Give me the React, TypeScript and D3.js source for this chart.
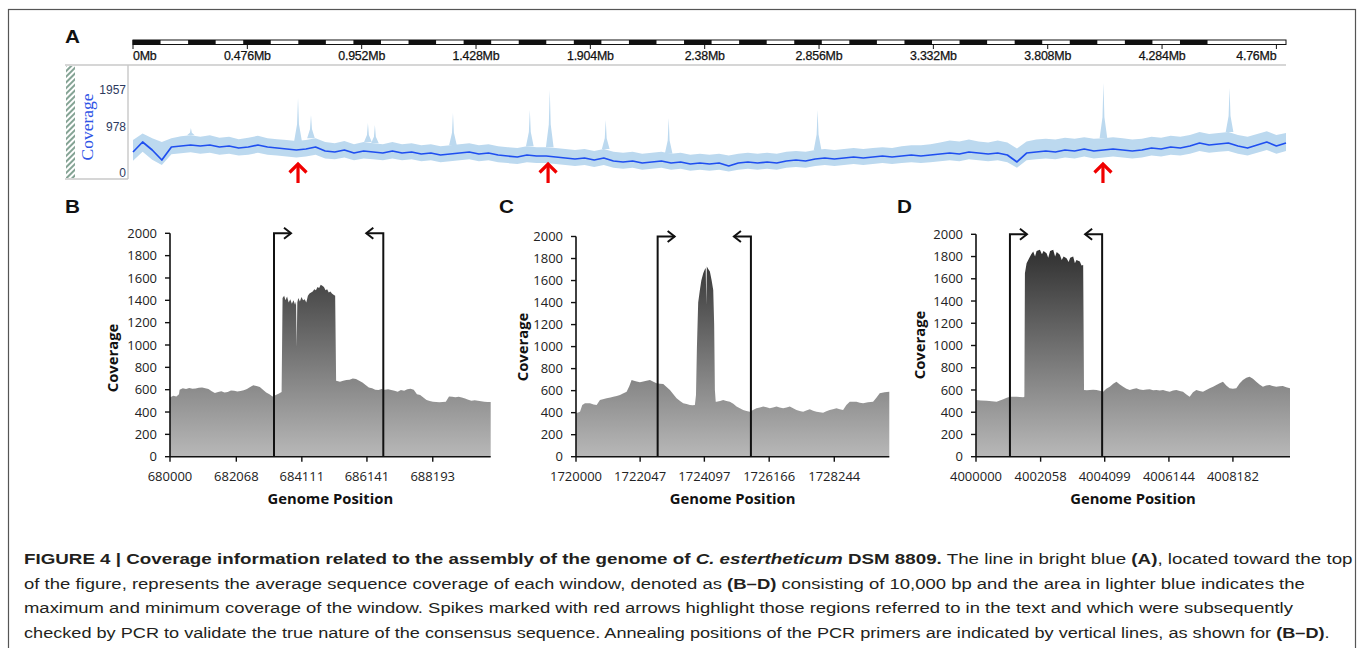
import React from "react";
import * as d3 from "d3";

// ---------------- Panel A data ----------------
const genomeLengthMb = 4.8;
const rulerTickMb = [0, 0.476, 0.952, 1.428, 1.904, 2.38, 2.856, 3.332, 3.808, 4.284, 4.76];
const rulerTickLabels = ["0Mb", "0.476Mb", "0.952Mb", "1.428Mb", "1.904Mb", "2.38Mb", "2.856Mb", "3.332Mb", "3.808Mb", "4.284Mb", "4.76Mb"];
const rulerSegmentMb = 0.1147;
const rulerBlackSegments = 20;
const trackTicks = [0, 978, 1957];
const windowStepMb = 0.04;
const meanCoverage = [
  446, 659, 489, 276, 553, 574, 595, 574, 595, 553,
  574, 531, 553, 595, 553, 531, 510, 489, 510, 553,
  468, 446, 489, 425, 468, 446, 425, 468, 425, 446,
  404, 425, 383, 404, 425, 446, 404, 425, 383, 361,
  340, 383, 361, 361, 340, 319, 298, 319, 276, 319,
  255, 234, 255, 213, 234, 255, 213, 234, 191, 213,
  191, 213, 149, 213, 234, 213, 234, 213, 255, 276,
  255, 298, 319, 298, 319, 340, 319, 340, 361, 340,
  361, 383, 361, 383, 404, 425, 404, 446, 425, 404,
  425, 383, 234, 425, 446, 468, 446, 489, 468, 510,
  468, 489, 510, 489, 468, 489, 531, 510, 553, 531,
  574, 638, 595, 617, 638, 574, 531, 595, 659, 574,
  638,
];
const maxCoverage = [
  700, 840, 740, 660, 740, 780, 800, 770, 800, 750,
  770, 720, 750, 790, 740, 720, 700, 680, 700, 740,
  660, 630, 680, 610, 660, 630, 610, 660, 610, 630,
  590, 610, 570, 590, 610, 630, 590, 610, 570, 550,
  530, 570, 550, 550, 530, 510, 490, 510, 470, 510,
  450, 430, 450, 410, 430, 450, 410, 430, 390, 410,
  390, 410, 370, 410, 430, 410, 430, 410, 450, 470,
  450, 490, 510, 490, 510, 530, 510, 530, 550, 530,
  570, 590, 590, 610, 650, 690, 670, 710, 670, 650,
  690, 650, 520, 670, 710, 730, 710, 750, 730, 760,
  730, 740, 760, 740, 710, 730, 770, 750, 790, 770,
  810, 870, 830, 850, 870, 810, 770, 830, 890, 810,
  850,
];
const minCoverage = [
  260, 450, 280, 170, 400, 420, 440, 410, 430, 390,
  410, 370, 390, 430, 390, 370, 350, 330, 350, 390,
  310, 290, 330, 270, 310, 290, 270, 310, 270, 290,
  250, 270, 230, 250, 270, 290, 250, 270, 230, 210,
  190, 230, 210, 210, 190, 170, 150, 170, 130, 170,
  110, 90, 110, 70, 90, 110, 70, 90, 50, 70,
  50, 70, 30, 70, 90, 70, 90, 70, 110, 130,
  110, 150, 170, 150, 170, 190, 170, 190, 210, 190,
  210, 230, 210, 230, 250, 270, 250, 290, 270, 250,
  270, 230, 110, 270, 290, 310, 290, 330, 310, 350,
  310, 330, 350, 330, 310, 330, 370, 350, 390, 370,
  410, 470, 430, 450, 470, 410, 370, 430, 490, 410,
  470,
];
const spikePositionMb = [0.241, 0.687, 0.741, 0.978, 1.007, 1.332, 1.652, 1.735, 1.968, 2.23, 2.85, 4.04, 4.565];
const spikePeakCoverage = [957, 1745, 1295, 1084, 1031, 1348, 1428, 1957, 1163, 1216, 1428, 2150, 2010];
const pcrArrowMb = [0.687, 1.728, 4.038];

// ---------------- Panels B–D data ----------------
const coverageTicks = [0, 200, 400, 600, 800, 1000, 1200, 1400, 1600, 1800, 2000];

const panelBTicks = [680000, 682068, 684111, 686141, 688193];
const panelBPrimers = [683243, 686651];
const panelBProfile = [
  [0, 530], [100, 545], [200, 540], [280, 560], [300, 600], [400, 612], [500, 605], [600, 615], [700, 608], [800, 610],
  [900, 618], [1000, 620], [1100, 612], [1200, 605], [1300, 585], [1400, 570], [1500, 580], [1600, 585], [1700, 575], [1800, 580],
  [1900, 592], [2000, 590], [2100, 584], [2200, 588], [2300, 596], [2400, 605], [2500, 625], [2600, 640], [2700, 632], [2800, 625],
  [2900, 600], [3000, 575], [3100, 560], [3200, 540], [3300, 552], [3400, 565], [3480, 580], [3510, 1420], [3560, 1440], [3600, 1400],
  [3650, 1435], [3700, 1380], [3750, 1410], [3800, 1370], [3850, 1400], [3900, 1360], [3930, 1390], [3950, 985], [3970, 1380], [4000, 1420],
  [4050, 1390], [4100, 1430], [4150, 1400], [4200, 1410], [4250, 1380], [4300, 1440], [4350, 1460], [4400, 1470], [4450, 1480], [4500, 1500],
  [4550, 1490], [4600, 1520], [4650, 1510], [4700, 1540], [4750, 1530], [4800, 1520], [4850, 1490], [4900, 1500], [4950, 1470], [5000, 1480],
  [5050, 1460], [5100, 1450], [5150, 1440], [5180, 680], [5300, 672], [5400, 680], [5500, 687], [5600, 690], [5700, 701], [5800, 695],
  [5900, 681], [6000, 665], [6100, 642], [6200, 620], [6300, 612], [6400, 600], [6500, 597], [6600, 605], [6700, 600], [6800, 603],
  [6900, 597], [7000, 590], [7100, 582], [7200, 597], [7300, 590], [7400, 603], [7500, 608], [7600, 600], [7700, 560], [7800, 552],
  [7900, 530], [8000, 507], [8100, 498], [8200, 493], [8300, 490], [8400, 487], [8500, 490], [8600, 493], [8700, 540], [8800, 537],
  [8900, 532], [9000, 537], [9100, 530], [9200, 522], [9300, 510], [9400, 501], [9500, 505], [9600, 501], [9700, 497], [9800, 493],
  [9900, 490], [10000, 490],
];

const panelCTicks = [1720000, 1722047, 1724097, 1726166, 1728244];
const panelCPrimers = [1722606, 1725583];
const panelCProfile = [
  [0, 394], [128, 409], [200, 470], [287, 485], [446, 485], [560, 475], [659, 470], [765, 515], [978, 530], [1100, 538],
  [1191, 545], [1300, 552], [1403, 560], [1500, 575], [1616, 591], [1700, 640], [1775, 697], [1850, 690], [1935, 682], [2040, 676],
  [2147, 682], [2250, 690], [2360, 697], [2470, 680], [2572, 667], [2680, 662], [2785, 661], [2900, 630], [2998, 606], [3100, 570],
  [3210, 530], [3320, 505], [3423, 485], [3530, 478], [3635, 470], [3720, 468], [3795, 470], [3830, 560], [3860, 1000], [3900, 1400],
  [3954, 1515], [4000, 1600], [4061, 1667], [4110, 1700], [4140, 1715], [4160, 1380], [4175, 1727], [4220, 1705], [4273, 1682], [4330, 1600],
  [4380, 1515], [4410, 1200], [4433, 606], [4460, 500], [4486, 500], [4600, 505], [4698, 515], [4800, 505], [4911, 500], [5020, 480],
  [5124, 455], [5230, 440], [5336, 424], [5440, 415], [5549, 409], [5650, 425], [5761, 439], [5870, 448], [5974, 455], [6080, 450],
  [6187, 439], [6290, 447], [6399, 455], [6500, 448], [6612, 439], [6720, 446], [6824, 455], [6930, 440], [7037, 424], [7140, 415],
  [7250, 409], [7350, 420], [7462, 430], [7570, 418], [7675, 409], [7780, 404], [7887, 400], [7990, 412], [8100, 424], [8200, 430],
  [8313, 439], [8420, 430], [8525, 424], [8630, 470], [8738, 500], [8850, 500], [8950, 500], [9060, 490], [9163, 485], [9320, 495],
  [9482, 500], [9600, 540], [9694, 576], [9850, 585], [10000, 591],
];

const panelDTicks = [4000000, 4002058, 4004099, 4006144, 4008182];
const panelDPrimers = [4001081, 4004017];
const panelDProfile = [
  [0, 510], [150, 505], [339, 504], [500, 498], [657, 495], [760, 505], [869, 516], [980, 530], [1081, 540], [1190, 538],
  [1293, 540], [1400, 536], [1505, 534], [1540, 540], [1558, 1650], [1611, 1740], [1700, 1790], [1760, 1820], [1823, 1845], [1880, 1800],
  [1930, 1850], [2035, 1860], [2100, 1820], [2150, 1850], [2247, 1830], [2300, 1790], [2360, 1850], [2459, 1860], [2520, 1800], [2571, 1840],
  [2671, 1815], [2730, 1770], [2790, 1800], [2883, 1785], [2950, 1750], [3000, 1790], [3095, 1800], [3150, 1740], [3200, 1770], [3307, 1755],
  [3360, 1720], [3413, 1725], [3440, 600], [3530, 598], [3625, 600], [3730, 603], [3837, 600], [3940, 592], [4049, 585], [4150, 610],
  [4261, 630], [4370, 655], [4473, 675], [4580, 650], [4686, 630], [4790, 610], [4897, 600], [5000, 608], [5109, 615], [5215, 605],
  [5321, 600], [5430, 605], [5533, 606], [5640, 598], [5745, 600], [5850, 596], [5957, 600], [6060, 590], [6169, 585], [6275, 595],
  [6381, 600], [6490, 590], [6593, 585], [6700, 560], [6805, 540], [6910, 580], [7017, 600], [7120, 590], [7229, 585], [7335, 600],
  [7441, 615], [7550, 630], [7653, 645], [7760, 660], [7865, 675], [7970, 640], [8077, 615], [8180, 610], [8289, 615], [8400, 660],
  [8501, 690], [8610, 710], [8713, 720], [8820, 700], [8925, 675], [9030, 650], [9137, 630], [9240, 640], [9349, 645], [9450, 635],
  [9561, 630], [9670, 634], [9773, 636], [9880, 625], [10000, 615],
];

const PANEL_FONT = "'Open Sans', 'DejaVu Sans', sans-serif";
const ARIAL = "'Liberation Sans', Arial, sans-serif";

type PanelProps = {
  id: string;
  letter: string;
  letterX: number;
  start: number;
  ticks: number[];
  profile: number[][];
  primers: number[];
  x0: number;
  x1: number;
  yTop: number;
  yBot: number;
  titleX: number;
  titleY: number;
};

function CoveragePanel(p: PanelProps) {
  const x = d3.scaleLinear().domain([p.start, p.start + 10000]).range([p.x0, p.x1]);
  const y = d3.scaleLinear().domain([0, 2000]).range([p.yBot, p.yTop]);
  const area = d3
    .area<number[]>()
    .x((d) => x(p.start + d[0]))
    .y0(y(0))
    .y1((d) => y(d[1]));
  const arrowLen = 17;
  const yt = y(2000);
  return (
    <g>
      <defs>
        <linearGradient id={p.id} gradientUnits="userSpaceOnUse" x1={0} y1={y(2000)} x2={0} y2={y(0)}>
          <stop offset="0%" stopColor="#262626" />
          <stop offset="100%" stopColor="#b8b8b8" />
        </linearGradient>
      </defs>
      <path d={area(p.profile) || ""} fill={`url(#${p.id})`} />
      {p.primers.map((pp, i) => {
        const px = x(pp);
        const dir = i === 0 ? 1 : -1;
        const tip = px + dir * arrowLen;
        return (
          <g key={i} fill="none" stroke="#111" strokeWidth={2}>
            <path d={`M${px},${y(0)} V${yt} H${tip}`} />
            <path d={`M${tip - dir * 7},${yt - 5.5} L${tip},${yt} L${tip - dir * 7},${yt + 5.5}`} />
          </g>
        );
      })}
      <line x1={p.x0} x2={p.x0} y1={y(2000)} y2={y(0)} stroke="#111" strokeWidth={1.6} />
      <line x1={p.x0} x2={p.x1} y1={y(0)} y2={y(0)} stroke="#111" strokeWidth={1.6} />
      {coverageTicks.map((t) => (
        <g key={t}>
          <line x1={p.x0 - 5} x2={p.x0} y1={y(t)} y2={y(t)} stroke="#111" strokeWidth={1.4} />
          <text x={p.x0 - 13} y={y(t)} dy="0.36em" textAnchor="end" fontFamily={PANEL_FONT} fontSize={13} fill="#222">
            {t}
          </text>
        </g>
      ))}
      {p.ticks.map((t) => (
        <g key={t}>
          <line x1={x(t)} x2={x(t)} y1={y(0)} y2={y(0) + 5} stroke="#111" strokeWidth={1.4} />
          <text x={x(t)} y={y(0) + 24} textAnchor="middle" fontFamily={PANEL_FONT} fontSize={13} fill="#222">
            {t}
          </text>
        </g>
      ))}
      <text
        transform={`translate(${p.titleX},${p.titleY}) rotate(-90)`}
        textAnchor="middle"
        dy="0.36em"
        fontFamily={PANEL_FONT}
        fontWeight="bold"
        fontSize={14.8}
        fill="#111"
      >
        Coverage
      </text>
      <text x={(p.x0 + p.x1) / 2} y={y(0) + 47} textAnchor="middle" fontFamily={PANEL_FONT} fontWeight="bold" fontSize={14.8} fill="#111">
        Genome Position
      </text>
      <text transform={`translate(${p.letterX},213) scale(1.15,1)`} fontFamily={ARIAL} fontWeight="bold" fontSize={18} fill="#111">
        {p.letter}
      </text>
    </g>
  );
}

function TrackPanel() {
  const gx = d3.scaleLinear().domain([0, genomeLengthMb]).range([133, 1286]);
  const ty = d3.scaleLinear().domain([0, 978, 1957]).range([173, 127, 90]);
  const windows = meanCoverage.map((m, i) => ({
    pos: i * windowStepMb,
    mean: m,
    hi: maxCoverage[i],
    lo: minCoverage[i],
  }));
  const band = d3
    .area<any>()
    .x((d) => gx(d.pos))
    .y0((d) => ty(d.lo))
    .y1((d) => ty(d.hi))(windows);
  const line = d3
    .line<any>()
    .x((d) => gx(d.pos))
    .y((d) => ty(d.mean))(windows);
  const spikeLine = d3
    .line<number[]>()
    .x((d) => gx(d[0]))
    .y((d) => ty(d[1]));
  const segW = gx(rulerSegmentMb) - gx(0);
  return (
    <g>
      <text transform="translate(65,43) scale(1.15,1)" fontFamily={ARIAL} fontWeight="bold" fontSize={18} fill="#111">
        A
      </text>
      {/* ruler */}
      <rect x={gx(0)} y={40} width={gx(genomeLengthMb) - gx(0)} height={4.5} fill="#fff" stroke="#111" strokeWidth={1} />
      {d3.range(rulerBlackSegments).map((k) => (
        <rect key={k} x={gx(k * 2 * rulerSegmentMb)} y={40} width={segW} height={4.5} fill="#111" />
      ))}
      {rulerTickMb.map((t, i) => (
        <g key={t}>
          <line x1={gx(t)} x2={gx(t)} y1={i === 0 ? 40 : 44} y2={49} stroke="#111" strokeWidth={1} />
          <text
            x={gx(t)}
            y={59.5}
            textAnchor={i === 0 ? "start" : i === rulerTickMb.length - 1 ? "end" : "middle"}
            fontFamily={ARIAL}
            fontSize={12.4}
            letterSpacing={-0.2}
            stroke="#111"
            strokeWidth={0.25}
            fill="#111"
          >
            {rulerTickLabels[i]}
          </text>
        </g>
      ))}
      <line x1={65} x2={gx(genomeLengthMb)} y1={65} y2={65} stroke="#c8c8c8" strokeWidth={1.6} />
      {/* left label box */}
      <defs>
        <pattern id="hatch" width={4} height={4} patternUnits="userSpaceOnUse" patternTransform="rotate(45)">
          <rect width={2} height={4} fill="#84a394" />
        </pattern>
      </defs>
      <rect x={66} y={66} width={9} height={112} fill="url(#hatch)" />
      <line x1={128} x2={128} y1={65} y2={179} stroke="#c8c8c8" strokeWidth={1.4} />
      <line x1={65} x2={128} y1={179} y2={179} stroke="#c8c8c8" strokeWidth={1.4} />
      <text
        transform="translate(87,127) rotate(-90)"
        textAnchor="middle"
        dy="0.35em"
        fontFamily="'Liberation Serif', 'Times New Roman', serif"
        fontSize={17.5}
        fill="#2f55e6"
      >
        Coverage
      </text>
      {trackTicks.map((t) => (
        <text key={t} x={126} y={ty(t)} dy="0.36em" textAnchor="end" fontFamily={ARIAL} fontSize={12} fill="#2d3a5e">
          {t}
        </text>
      ))}
      {/* coverage track */}
      <path d={band || ""} fill="#bcd9ef" />
      {spikePositionMb.map((s, i) => {
        const base = maxCoverage[Math.round(s / windowStepMb)];
        const peak = spikePeakCoverage[i];
        const mid = base + (peak - base) * 0.35;
        const pts = [
          [s - 0.016, base],
          [s - 0.004, mid],
          [s, peak],
          [s + 0.004, mid],
          [s + 0.016, base],
        ];
        return <path key={i} d={spikeLine(pts) || ""} fill="#bcd9ef" />;
      })}
      <path d={line || ""} fill="none" stroke="#1f4ff0" strokeWidth={1.7} strokeLinejoin="round" />
      {/* red arrows */}
      {pcrArrowMb.map((a) => {
        const ax = gx(a);
        return (
          <g key={a} fill="none" stroke="#f00000" strokeWidth={3.2}>
            <line x1={ax} x2={ax} y1={164.5} y2={183} />
            <path d={`M${ax - 8.5},${172.5} L${ax},${164} L${ax + 8.5},${172.5}`} />
          </g>
        );
      })}
    </g>
  );
}

function Caption() {
  const lineYs = [564, 588.5, 613, 637.5];
  const lineScale = [1.252, 1.234, 1.231, 1.21];
  const common = { fontFamily: ARIAL, fontSize: 15, fill: "#231f20" } as const;
  const tf = (i: number) => `translate(24,${lineYs[i]}) scale(${lineScale[i]},1)`;
  return (
    <g>
      <text transform={tf(0)} {...common}>
        <tspan fontWeight="bold">FIGURE 4 | Coverage information related to the assembly of the genome of </tspan>
        <tspan fontWeight="bold" fontStyle="italic">C. estertheticum</tspan>
        <tspan fontWeight="bold"> DSM 8809.</tspan>
        <tspan> The line in bright blue </tspan>
        <tspan fontWeight="bold">(A)</tspan>
        <tspan>, located toward the top</tspan>
      </text>
      <text transform={tf(1)} {...common}>
        <tspan>of the figure, represents the average sequence coverage of each window, denoted as </tspan>
        <tspan fontWeight="bold">(B–D)</tspan>
        <tspan> consisting of 10,000 bp and the area in lighter blue indicates the</tspan>
      </text>
      <text transform={tf(2)} {...common}>
        maximum and minimum coverage of the window. Spikes marked with red arrows highlight those regions referred to in the text and which were subsequently
      </text>
      <text transform={tf(3)} {...common}>
        <tspan>checked by PCR to validate the true nature of the consensus sequence. Annealing positions of the PCR primers are indicated by vertical lines, as shown for </tspan>
        <tspan fontWeight="bold">(B–D)</tspan>
        <tspan>.</tspan>
      </text>
    </g>
  );
}

export default function App() {
  return (
    <svg
      width={1360}
      height={648}
      viewBox="0 0 1360 648"
      style={{ position: "absolute", left: 0, top: 0, background: "#fff" }}
    >
      <rect x={0} y={0} width={1360} height={648} fill="#fff" />
      <rect x={8.5} y={9.5} width={1347} height={700} fill="none" stroke="#555" strokeWidth={1.2} />
      <TrackPanel />
      <CoveragePanel
        id="gradB"
        letter="B"
        letterX={65}
        start={680000}
        ticks={panelBTicks}
        profile={panelBProfile}
        primers={panelBPrimers}
        x0={170}
        x1={490.7}
        yTop={233.3}
        yBot={456.7}
        titleX={113}
        titleY={358}
      />
      <CoveragePanel
        id="gradC"
        letter="C"
        letterX={499}
        start={1720000}
        ticks={panelCTicks}
        profile={panelCProfile}
        primers={panelCPrimers}
        x0={576}
        x1={889.3}
        yTop={236.5}
        yBot={456.7}
        titleX={523}
        titleY={347}
      />
      <CoveragePanel
        id="gradD"
        letter="D"
        letterX={897}
        start={4000000}
        ticks={panelDTicks}
        profile={panelDProfile}
        primers={panelDPrimers}
        x0={976}
        x1={1290}
        yTop={234.3}
        yBot={456.7}
        titleX={920}
        titleY={345}
      />
      <Caption />
    </svg>
  );
}
